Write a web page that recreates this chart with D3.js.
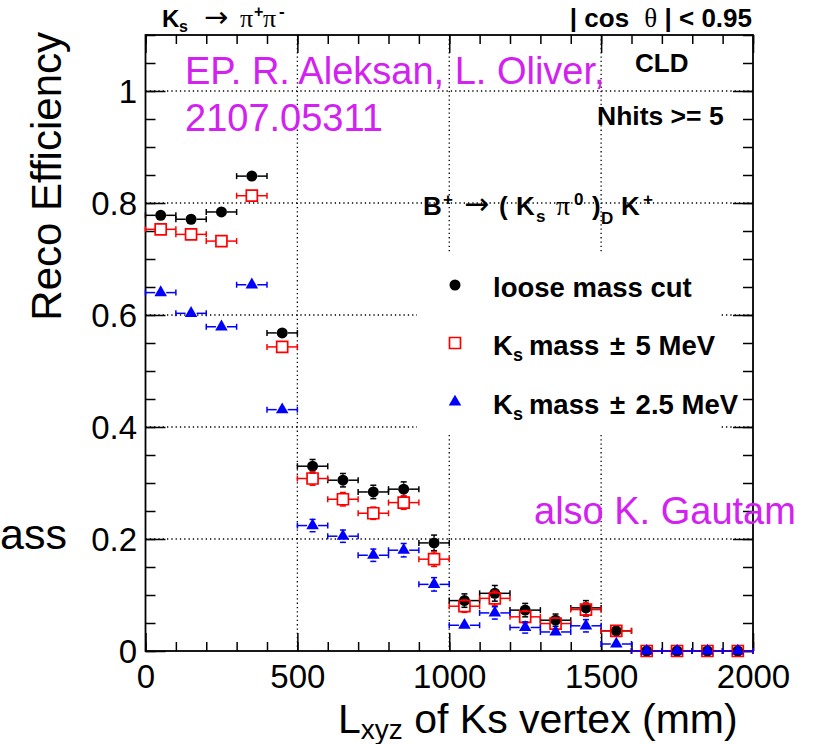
<!DOCTYPE html>
<html><head><meta charset="utf-8">
<script src="https://cdn.jsdelivr.net/npm/d3@7/dist/d3.min.js"></script>
<style>
body{margin:0;background:#fff}
svg{display:block}
text{font-family:"Liberation Sans",Arial,Helvetica,sans-serif}
</style>
</head><body>
<svg id="c" width="816" height="744"></svg>
<script>
// ---------------- data ----------------
const binCenters = [50,150,250,350,450,550,650,750,850,950,1050,1150,1250,1350,1450,1550,1650,1750,1850,1950];
const binHalfWidth = 50;
const looseVals = [0.778,0.771,0.784,0.848,0.568,0.330,0.305,0.284,0.289,0.193,0.090,0.103,0.073,0.055,0.077,0.036,0,0,0,0];
const looseErrs = [0.004,0.004,0.004,0.004,0.009,0.012,0.012,0.012,0.013,0.014,0.012,0.014,0.012,0.011,0.013,0.008,0,0,0,0];
const mass5Vals = [0.753,0.744,0.732,0.813,0.543,0.308,0.271,0.246,0.265,0.164,0.080,0.094,0.061,0.049,0.074,0.036,0,0,0,0];
const mass5Errs = [0.004,0.004,0.004,0.004,0.009,0.012,0.012,0.011,0.012,0.013,0.011,0.013,0.011,0.010,0.012,0.007,0,0,0,0];
const mass25Vals = [0.640,0.603,0.579,0.654,0.431,0.224,0.205,0.171,0.180,0.119,0.046,0.068,0.042,0.034,0.045,0.0125,0,0,0,0];
const mass25Errs = [0.004,0.004,0.004,0.004,0.009,0.011,0.011,0.011,0.012,0.012,0.009,0.011,0.010,0.009,0.011,0.006,0,0,0,0];
const xTicks = [0,500,1000,1500,2000];
const xTickLabels = ["0","500","1000","1500","2000"];
const yTicks = [0,0.2,0.4,0.6,0.8,1];
const yTickLabels = ["0","0.2","0.4","0.6","0.8","1"];
const xGrid = [500,1000,1500];
const yGrid = [0.2,0.4,0.6,0.8,1.0];
const legendLabels = ["loose mass cut","mass \u00b1 5 MeV","mass \u00b1 2.5 MeV"];

// ---------------- setup ----------------
const svg = d3.select("#c");
svg.append("rect").attr("width",816).attr("height",744).attr("fill","#fff");
const L = 145.5, R = 753, T = 35, B = 651;
const x = d3.scaleLinear().domain([0,2000]).range([L,R]);
const y = d3.scaleLinear().domain([0,1.1]).range([B,T]);
const FONT = '"Liberation Sans",Arial,Helvetica,sans-serif';
const SERIF = '"Liberation Serif","Times New Roman",serif';
const ARROWF = '"DejaVu Sans",sans-serif';

// grid
const grid = svg.append("g").attr("stroke","#000").attr("stroke-width",1.3).attr("stroke-dasharray","1.3,3");
grid.selectAll(".gx").data(xGrid).join("line").attr("x1",d=>x(d)).attr("x2",d=>x(d)).attr("y1",T).attr("y2",B);
grid.selectAll(".gy").data(yGrid).join("line").attr("y1",d=>y(d)).attr("y2",d=>y(d)).attr("x1",L).attr("x2",R);

// legend background (white box hiding grid)
svg.append("rect").attr("x",417).attr("y",253).attr("width",302).attr("height",179).attr("fill","#fff");

// axes
const xMinor = d3.range(0,2001,100);
const yMinor = d3.range(0,1.1001,0.05);
function styleAxis(g){ g.select(".domain").remove(); g.selectAll("line").attr("stroke","#000").attr("stroke-width",1.5); }
svg.append("g").attr("transform",`translate(0,${B})`).call(d3.axisBottom(x).tickValues(xMinor).tickSize(-9).tickFormat("")).call(styleAxis);
svg.append("g").attr("transform",`translate(0,${T})`).call(d3.axisTop(x).tickValues(xMinor).tickSize(-9).tickFormat("")).call(styleAxis);
svg.append("g").attr("transform",`translate(0,${T})`).call(d3.axisTop(x).tickValues(xTicks).tickSize(-18).tickFormat("")).call(styleAxis);
const xAx = svg.append("g").attr("transform",`translate(0,${B})`)
  .call(d3.axisBottom(x).tickValues(xTicks).tickSize(-18).tickPadding(14).tickFormat((d,i)=>xTickLabels[i])).call(styleAxis);
xAx.attr("font-size",33).attr("font-family",FONT);
xAx.selectAll("text").attr("fill","#000");

svg.append("g").attr("transform",`translate(${L},0)`).call(d3.axisLeft(y).tickValues(yMinor).tickSize(-10).tickFormat("")).call(styleAxis);
svg.append("g").attr("transform",`translate(${R},0)`).call(d3.axisRight(y).tickValues(yMinor).tickSize(-10).tickFormat("")).call(styleAxis);
svg.append("g").attr("transform",`translate(${R},0)`).call(d3.axisRight(y).tickValues(yTicks).tickSize(-20).tickFormat("")).call(styleAxis);
const yAx = svg.append("g").attr("transform",`translate(${L},0)`)
  .call(d3.axisLeft(y).tickValues(yTicks).tickSize(-20).tickPadding(8.5).tickFormat((d,i)=>yTickLabels[i])).call(styleAxis);
yAx.attr("font-size",33).attr("font-family",FONT);
yAx.selectAll("text").attr("fill","#000").attr("dy","0.36em");

// frame
svg.append("rect").attr("x",L).attr("y",T).attr("width",R-L).attr("height",B-T)
  .attr("fill","none").attr("stroke","#000").attr("stroke-width",1.8);

// ---------------- data series ----------------
const series = [
  {vals: looseVals, errs: looseErrs, color:"#000000", kind:"circle"},
  {vals: mass5Vals, errs: mass5Errs, color:"#ff0000", kind:"square"},
  {vals: mass25Vals, errs: mass25Errs, color:"#0000ff", kind:"triangle"}
];
const H = 5.5, CAP = 3;
function markerPath(kind){
  if(kind==="circle") return d3.symbol().type(d3.symbolCircle).size(Math.PI*H*H)();
  if(kind==="square") return d3.symbol().type(d3.symbolSquare).size(4*H*H)();
  return d3.symbol().type(d3.symbolTriangle).size(68)();
}
function drawMarker(g, kind, color, px, py){
  const p = g.append("path").attr("d",markerPath(kind)).attr("transform",`translate(${px},${py})`);
  if(kind==="square") p.attr("fill","none").attr("stroke",color).attr("stroke-width",1.7);
  else p.attr("fill",color);
}
series.forEach(s=>{
  const g = svg.append("g").attr("stroke",s.color).attr("stroke-width",1.5);
  binCenters.forEach((c,i)=>{
    const px = x(c), py = y(s.vals[i]);
    const xl = x(c-binHalfWidth), xr = x(c+binHalfWidth);
    g.append("line").attr("x1",xl).attr("x2",px-H).attr("y1",py).attr("y2",py);
    g.append("line").attr("x1",px+H).attr("x2",xr).attr("y1",py).attr("y2",py);
    g.append("line").attr("x1",xl).attr("x2",xl).attr("y1",py-CAP).attr("y2",py+CAP);
    g.append("line").attr("x1",xr).attr("x2",xr).attr("y1",py-CAP).attr("y2",py+CAP);
    const e = s.errs[i];
    if(e>0){
      const yt = y(s.vals[i]+e), yb = y(Math.max(0,s.vals[i]-e));
      if(yt < py-H){
        g.append("line").attr("x1",px).attr("x2",px).attr("y1",yt).attr("y2",py-H);
        g.append("line").attr("x1",px-CAP).attr("x2",px+CAP).attr("y1",yt).attr("y2",yt);
      }
      if(yb > py+H){
        g.append("line").attr("x1",px).attr("x2",px).attr("y1",py+H).attr("y2",yb);
        g.append("line").attr("x1",px-CAP).attr("x2",px+CAP).attr("y1",yb).attr("y2",yb);
      }
    }
    drawMarker(svg, s.kind, s.color, px, py);
  });
});

// ---------------- legend ----------------
const legY = [285, 343, 402];
series.forEach((s,i)=>{
  drawMarker(svg, s.kind, s.color, 455, legY[i]);
  const t = svg.append("text").attr("x",493).attr("y",legY[i]+12).attr("font-size",27.5).attr("font-weight","bold").attr("fill","#000");
  if(i===0){ t.text(legendLabels[0]); }
  else {
    const parts = legendLabels[i].split("\u00b1");
    t.append("tspan").text("K");
    t.append("tspan").attr("font-size",18).attr("dy",6).text("s");
    t.append("tspan").attr("dy",-6).attr("dx",6).text(parts[0]);
    t.append("tspan").attr("dx",3).text("\u00b1");
    t.append("tspan").attr("dx",3).text(parts[1]);
  }
});

// ---------------- texts ----------------
// rich text helper: pieces = [str, {size, bold, serif, arrow, x, y}]
function rich(xp, yp, pieces, opts={}){
  const t = svg.append("text").attr("x",xp).attr("y",yp).attr("fill",opts.fill||"#000");
  if(opts.anchor) t.attr("text-anchor",opts.anchor);
  pieces.forEach(([str,o])=>{
    const ts = t.append("tspan").text(str).attr("font-size",o.size)
      .attr("font-weight",o.bold?"bold":"normal")
      .attr("font-family",o.serif?SERIF:(o.arrow?ARROWF:FONT));
    if(o.x!==undefined) ts.attr("x",o.x);
    if(o.y!==undefined) ts.attr("y",o.y);
    if(o.dx) ts.attr("dx",o.dx);
    if(o.dy) ts.attr("dy",o.dy);
  });
  return t;
}
function txt(xp, yp, str, size, opts={}){
  return rich(xp, yp, [[str,{size, bold:opts.bold, serif:opts.serif}]], opts);
}
// top-left: Ks -> pi+ pi-
rich(162,27,[
  ["K",{size:24,bold:true}],
  ["s",{size:16,bold:true,x:179,y:32}],
  ["\u2192",{size:29,arrow:true,x:204,y:27}],
  ["\u03c0",{size:26,serif:true,x:240,y:27}],
  ["+",{size:16,bold:true,x:254,y:17}],
  ["\u03c0",{size:26,serif:true,x:263,y:27}],
  ["-",{size:17,bold:true,x:279,y:17}]
]);
// top-right
rich(752,27,[
  ["| cos ",{size:26,bold:true}],
  ["\u03b8",{size:27,serif:true,dx:8}],
  [" | < 0.95",{size:26,bold:true}]
],{anchor:"end"});
// CLD, Nhits
txt(635,72,"CLD",26,{bold:true});
txt(597,125,"Nhits >= 5",26.5,{bold:true});
// B+ -> (Ks pi0)_D K+
rich(423,215,[
  ["B",{size:26,bold:true}],
  ["+",{size:17,bold:true,x:443,y:205}],
  ["\u2192",{size:30,arrow:true,x:464,y:214}],
  ["(",{size:26,bold:true,x:499,y:215}],
  ["K",{size:26,bold:true,x:516,y:215}],
  ["s",{size:17,bold:true,x:536,y:222}],
  ["\u03c0",{size:28,serif:true,x:556,y:215}],
  ["0",{size:17,bold:true,x:574,y:205}],
  [")",{size:26,bold:true,x:592,y:215}],
  ["D",{size:17,bold:true,x:601,y:224}],
  ["K",{size:26,bold:true,x:621,y:215}],
  ["+",{size:17,bold:true,x:643,y:205}]
]);

// axis titles
rich(338,733,[
  ["L",{size:41}],
  ["xyz",{size:28,dy:6}],
  [" of Ks vertex (mm)",{size:41,dy:-6}]
]);
svg.append("text").attr("transform","translate(61,32) rotate(-90)").attr("text-anchor","end")
  .attr("font-size",42).attr("fill","#000").text("Reco Efficiency");

// stray slide text
txt(0,549,"ass",43,{});

// magenta annotations
const MAG = "#d221f0";
txt(185,84,"EP. R. Aleksan, L. Oliver,",38,{fill:MAG});
txt(185,131,"2107.05311",38,{fill:MAG});
txt(534,524,"also K. Gautam",38,{fill:MAG});
</script>
</body></html>
